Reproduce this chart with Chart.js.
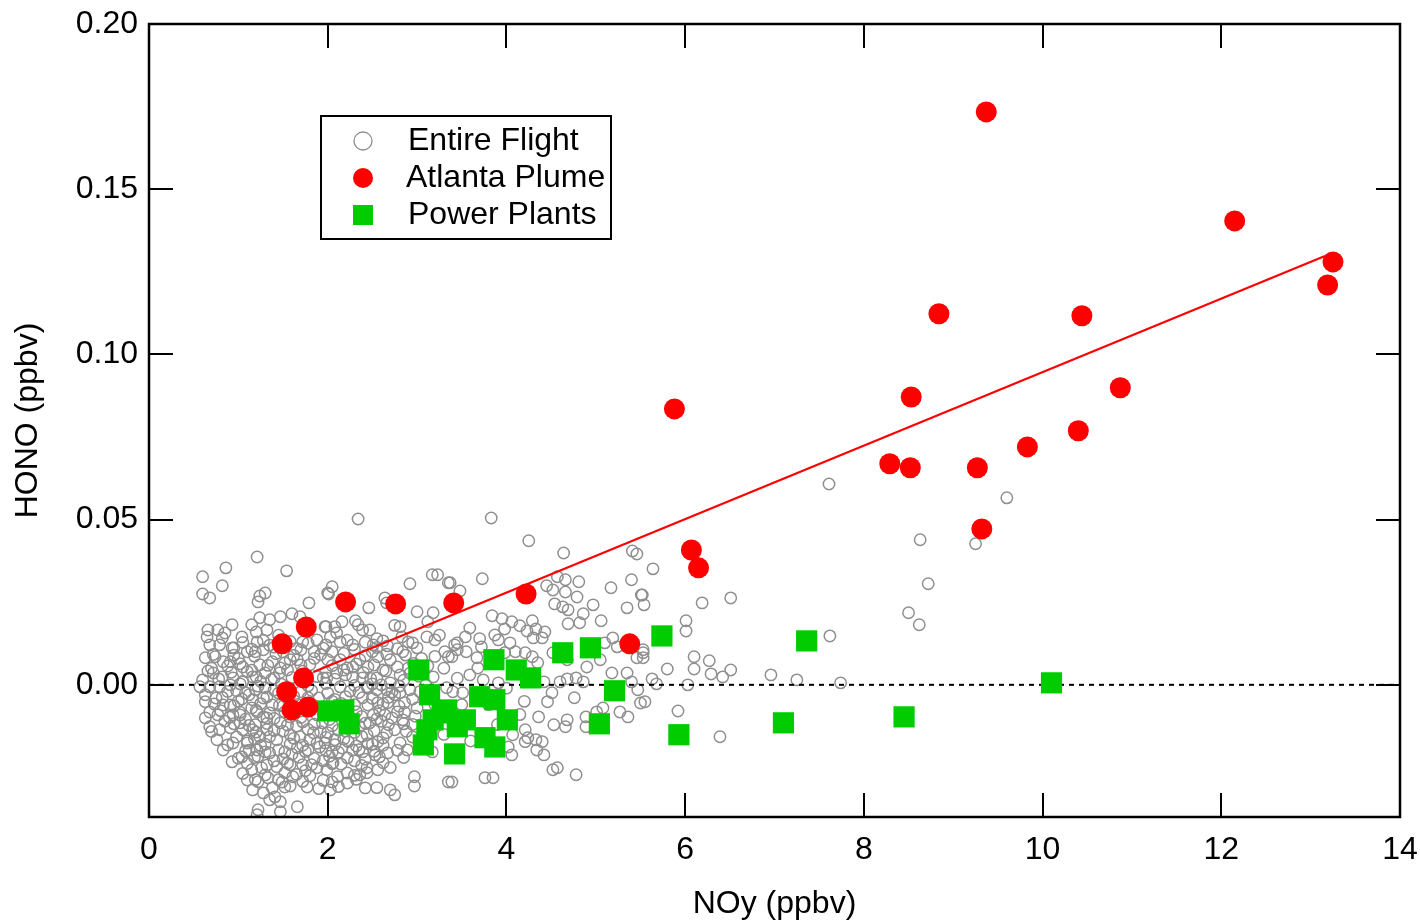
<!DOCTYPE html>
<html>
<head>
<meta charset="utf-8">
<script src="https://cdn.jsdelivr.net/npm/chart.js@4.4.1/dist/chart.umd.min.js"></script>
<style>
  html, body { margin: 0; padding: 0; background: #fff; }
  #wrap { width: 1420px; height: 923px; }
</style>
</head>
<body>
<div id="wrap"><canvas id="chart" width="1420" height="923"></canvas></div>
<script>
// Axis ticks
const xTicks = [0, 2, 4, 6, 8, 10, 12, 14];
const yTicks = [0, 0.05, 0.10, 0.15, 0.20];

// Atlanta plume (NOy, HONO)
const atlantaNOy  = [9.37, 12.15, 13.25, 13.19, 8.84, 10.44, 10.87, 5.88, 8.53, 8.29, 8.52, 9.27, 9.83, 10.40, 9.32,
                     6.07, 6.15, 4.22, 3.41, 2.76, 2.20, 5.38, 1.49, 1.76, 1.73, 1.54, 1.60, 1.78];
const atlantaHONO = [0.1734, 0.1404, 0.1280, 0.1210, 0.1123, 0.1117, 0.0899, 0.0835, 0.0871, 0.0669, 0.0657, 0.0657, 0.0720, 0.0769, 0.0472,
                     0.0408, 0.0354, 0.0275, 0.0248, 0.0245, 0.0251, 0.0124, 0.0124, 0.0175, 0.0021, -0.0021, -0.0076, -0.0067];

// Power plants (NOy, HONO)
const plantNOy  = [10.10, 8.45, 7.36, 7.10, 5.74, 5.93, 5.21, 5.04, 4.94, 4.63, 4.27, 4.11, 3.86, 3.02, 3.14, 3.28, 3.18,
                   3.07, 3.42, 3.54, 3.45, 3.33, 3.70, 3.87, 3.87, 3.76, 4.01, 3.11, 2.00, 2.18, 2.24];
const plantHONO = [0.0006, -0.0097, 0.0133, -0.0115, 0.0148, -0.0151, -0.0018, -0.0118, 0.0112, 0.0097, 0.0021, 0.0045, 0.0076, 0.0045, -0.0030, -0.0085, -0.0106,
                   -0.0182, -0.0209, -0.0106, -0.0127, -0.0076, -0.0036, -0.0045, -0.0188, -0.0160, -0.0106, -0.0136, -0.0079, -0.0076, -0.0118];

// Linear fit to the Atlanta plume, end points
const fitNOy  = [1.84, 13.16];
const fitHONO = [0.0039, 0.1298];

// Entire flight [NOy, HONO]
const flightPoints = [
  [7.61,0.0608],[5.64,0.0351],[6.19,0.0248],[6.51,0.0263],[6.01,0.0194],[6.01,0.0163],[7.62,0.0148],[6.10,0.0085],
  [6.27,0.0073],[6.10,0.0048],[6.29,0.0033],[6.42,0.0024],[6.51,0.0045],[6.96,0.0030],[7.25,0.0015],[7.74,0.0006],
  [5.80,0.0048],[6.03,0.0000],[5.63,0.0018],[5.68,0.0003],[5.55,-0.0051],[5.92,-0.0079],[6.39,-0.0157],[5.54,0.0242],
  [5.52,0.0272],[5.53,0.0106],[5.53,0.0082],
  [9.60,0.0566],[8.63,0.0439],[9.25,0.0427],[8.72,0.0306],[8.50,0.0218],[8.62,0.0182],
  [2.34,0.0502],[3.83,0.0505],[1.21,-0.0393],
  [4.25,0.0436],[4.64,0.0399],[5.41,0.0405],[5.46,0.0396],[3.73,0.0321],[3.48,0.0284],[3.37,0.0309],[4.45,0.0300],
  [4.57,0.0327],[4.66,0.0318],[4.66,0.0281],[4.52,0.0287],[4.79,0.0266],[4.81,0.0312],[5.17,0.0294],[5.40,0.0318],
  [5.51,0.0272],[5.35,0.0233],[4.54,0.0245],[4.63,0.0236],[4.69,0.0227],[4.97,0.0242],[4.86,0.0215],[4.82,0.0188],
  [4.69,0.0185],[5.06,0.0194],[3.84,0.0209],[3.95,0.0200],[4.06,0.0191],[3.98,0.0169],[4.15,0.0179],[4.29,0.0194],
  [4.33,0.0169],[4.23,0.0163],[4.43,0.0160],[3.59,0.0172],[3.54,0.0145],[3.42,0.0121],[3.87,0.0151],[3.91,0.0136],
  [4.04,0.0127],[4.30,0.0142],[4.40,0.0142],[3.72,0.0115],[3.67,0.0082],[3.98,0.0097],[4.21,0.0097],[4.29,0.0085],
  [4.35,0.0067],[4.52,0.0097],[4.68,0.0076],[4.90,0.0054],[5.05,0.0076],[5.19,0.0142],[5.10,0.0127],[5.24,0.0115],
  [5.46,0.0082],[5.53,0.0097],[5.18,0.0036],[5.35,0.0036],[5.40,0.0009],[5.47,-0.0015],[5.50,-0.0055],[5.27,-0.0082],
  [5.36,-0.0097],[5.08,-0.0070],[5.01,-0.0082],[4.89,-0.0097],[4.89,-0.0127],[4.68,-0.0106],[4.66,-0.0127],[4.53,-0.0121],
  [4.36,-0.0097],[4.46,-0.0051],[4.51,-0.0024],[4.76,-0.0039],[4.86,0.0009],[4.78,0.0021],[4.68,0.0018],[4.60,0.0009],
  [4.42,0.0009],[4.21,-0.0136],[4.24,-0.0160],[4.33,-0.0166],[4.40,-0.0172],[4.34,-0.0197],[4.42,-0.0212],[4.06,-0.0212],
  [4.02,-0.0188],[4.52,-0.0257],[4.57,-0.0251],[4.78,-0.0272],[3.76,-0.0281],[3.85,-0.0281],[3.39,-0.0294],[3.59,0.0030],
  [3.68,0.0051],[3.74,0.0015],[3.91,0.0006],[3.51,-0.0024],[3.40,-0.0021],[3.45,0.0106],[3.39,0.0085],[4.21,-0.0172],
  [4.07,-0.0151],
  [3.23,0.0333],[3.17,0.0333],[3.35,0.0309],[2.92,0.0306],[2.05,0.0297],[2.01,0.0275],[2.64,0.0263],[2.46,0.0233],
  [2.66,0.0248],[3.00,0.0221],[3.18,0.0218],[3.12,0.0191],[2.81,0.0176],[2.31,0.0194],[2.34,0.0182],[2.39,0.0166],
  [2.47,0.0166],[2.16,0.0191],[2.08,0.0176],[1.98,0.0176],[2.10,0.0157],[2.03,0.0145],[2.14,0.0130],[1.98,0.0121],
  [3.11,0.0145],[3.20,0.0136],[2.83,0.0145],[2.67,0.0118],[2.51,0.0121],[2.28,0.0121],[3.00,0.0112],[2.84,0.0100],
  [3.31,0.0100],[3.35,0.0085],[3.45,0.0127],[2.56,0.0085],[2.36,0.0076],[2.70,0.0076],[2.14,0.0076],[2.00,0.0076],
  [2.22,0.0051],[2.28,0.0054],[2.45,0.0054],[2.62,0.0045],[2.78,0.0054],[2.81,0.0030],[2.10,0.0036],[1.99,0.0021],
  [2.39,0.0021],[2.55,0.0021],[2.70,0.0006],[3.18,0.0024],
  [2.14,-0.0006],[2.44,-0.0006],[2.66,-0.0015],[2.81,-0.0024],[2.92,-0.0015],[2.39,-0.0039],[2.56,-0.0054],[2.67,-0.0054],
  [2.86,-0.0054],[2.51,-0.0091],[2.64,-0.0091],[2.78,-0.0082],[2.84,-0.0106],[2.47,-0.0115],[2.75,-0.0136],[2.66,-0.0145],
  [2.44,-0.0151],[2.56,-0.0172],[2.81,-0.0176],[2.89,-0.0197],[2.67,-0.0206],[2.53,-0.0212],[2.39,-0.0203],[2.28,-0.0197],
  [2.16,-0.0191],[2.05,-0.0203],[1.97,-0.0176],[2.08,-0.0166],[2.23,-0.0172],[2.00,-0.0145],[1.94,-0.0115],[2.06,-0.0236],
  [1.99,-0.0257],[2.11,-0.0278],[2.22,-0.0297],[2.03,-0.0318],[2.36,-0.0272],[2.44,-0.0266],[2.44,-0.0251],[2.56,-0.0257],
  [2.42,-0.0312],[2.70,-0.0318],[2.75,-0.0333],[2.97,-0.0278],[2.97,-0.0306],[3.35,-0.0294],[3.17,-0.0203],[3.18,-0.0021],
  [3.03,-0.0021],[3.33,-0.0009],
  [1.21,0.0387],[0.86,0.0354],[0.60,0.0327],[1.54,0.0345],[0.82,0.0300],[0.60,0.0275],[0.68,0.0263],[1.30,0.0278],
  [1.24,0.0269],[1.22,0.0251],[1.79,0.0248],[2.00,0.0278],[0.93,0.0182],[0.66,0.0166],[0.77,0.0166],[0.85,0.0157],
  [0.65,0.0145],[0.82,0.0142],[0.68,0.0121],[0.79,0.0121],[0.93,0.0112],[1.04,0.0145],[1.15,0.0182],[1.24,0.0203],
  [1.35,0.0197],[1.32,0.0166],[1.21,0.0130],[1.28,0.0106],[1.19,0.0100],[1.47,0.0206],[1.60,0.0215],[1.69,0.0206],
  [1.88,0.0136],[1.97,0.0176],[1.72,0.0130],[0.63,0.0082],[0.74,0.0085],[0.83,0.0070],[0.91,0.0070],[1.05,0.0054],
  [1.24,0.0061],[1.38,0.0070],[1.47,0.0051],[1.58,0.0076],[1.66,0.0076],[0.60,0.0015],[0.72,0.0036],[0.82,0.0024],
  [0.94,0.0021],[1.05,0.0009],[1.16,0.0024],[1.30,0.0036],[1.95,0.0021],
  [0.57,-0.0006],[0.68,-0.0006],[0.79,-0.0006],[0.91,0.0000],[1.19,-0.0015],[1.30,-0.0009],[0.63,-0.0030],[0.63,-0.0051],
  [0.83,-0.0061],[0.91,-0.0061],[0.68,-0.0082],[0.63,-0.0100],[0.77,-0.0091],[0.94,-0.0091],[1.02,-0.0091],[1.21,-0.0082],
  [1.38,-0.0061],[0.68,-0.0127],[0.79,-0.0136],[0.91,-0.0130],[1.02,-0.0115],[0.76,-0.0166],[0.94,-0.0176],[0.83,-0.0197],
  [0.93,-0.0233],[1.04,-0.0218],[1.19,-0.0121],[1.32,-0.0136],[1.47,-0.0115],[1.58,-0.0097],[1.72,-0.0112],[1.88,-0.0091],
  [1.24,-0.0157],[1.43,-0.0166],[1.58,-0.0151],[1.69,-0.0157],[1.84,-0.0145],[1.21,-0.0197],[1.35,-0.0206],[1.52,-0.0203],
  [1.66,-0.0191],[1.78,-0.0197],[1.91,-0.0188],[1.15,-0.0257],[1.26,-0.0251],[1.43,-0.0248],[1.58,-0.0242],[1.72,-0.0242],
  [1.88,-0.0251],[1.19,-0.0287],[1.33,-0.0281],[1.49,-0.0294],[1.61,-0.0278],[1.77,-0.0309],[1.16,-0.0318],[1.28,-0.0327],
  [1.41,-0.0339],[1.52,-0.0309],[1.66,-0.0369],[1.47,-0.0354],[1.35,-0.0348],[1.22,-0.0378],[1.47,-0.0384],[1.16,-0.0136],
  [1.32,-0.0100],[1.16,-0.0045],
  [1.10,0.0040],[1.25,0.0010],[1.40,0.0020],[1.55,0.0045],[1.70,0.0060],[1.85,0.0080],[1.12,-0.0030],[1.28,-0.0040],
  [1.45,-0.0025],[1.62,-0.0035],[1.90,-0.0040],[2.05,-0.0050],[1.15,-0.0070],[1.35,-0.0085],[1.50,-0.0065],[1.95,-0.0070],
  [2.10,-0.0090],[2.25,-0.0100],[1.10,-0.0170],[1.30,-0.0180],[1.50,-0.0140],[1.65,-0.0125],[1.80,-0.0165],[2.20,-0.0140],
  [2.35,-0.0125],[1.10,0.0100],[1.35,0.0120],[1.50,0.0100],[1.20,0.0160],[1.45,0.0150],[1.65,0.0110],[1.85,0.0100],
  [2.05,0.0100],[2.20,0.0030],[2.50,0.0100],[2.60,0.0000],[2.75,-0.0030],[2.90,0.0050],[3.00,-0.0070],[2.95,-0.0120],
  [2.60,-0.0110],[2.30,-0.0060],[2.45,-0.0010],[2.55,0.0140],[2.75,0.0180],[2.90,0.0130],[3.05,0.0080],[3.25,0.0150],
  [3.30,0.0050],[3.10,0.0000],[3.45,0.0020],[3.55,0.0100],[3.70,0.0140],[3.50,-0.0060],[3.30,-0.0150],[3.60,-0.0170],
  [3.80,-0.0060],[4.00,-0.0010],[4.10,0.0100],[4.20,-0.0050],[3.90,-0.0120],[4.15,-0.0090],[0.70,0.0050],[0.75,-0.0040],
  [0.88,-0.0020],[0.95,0.0090],[1.00,-0.0050],[0.85,-0.0110],[1.05,0.0010],[1.00,0.0080],[1.08,-0.0200],[1.18,-0.0220],
  [1.40,-0.0230],[1.60,-0.0210],[1.75,-0.0260],[1.95,-0.0230],[2.15,-0.0240],[2.30,-0.0230],[2.50,-0.0180],[2.70,-0.0250],
  [2.85,-0.0220],
  [1.05,0.0128],[1.28,0.0134],[1.58,0.0131],[1.78,0.0126],[2.22,0.0135],[2.42,0.0129],[2.62,0.0133],[2.95,0.0127],
  [0.72,0.0092],[1.18,0.0087],[1.42,0.0094],[1.62,0.0089],[1.92,0.0091],[2.18,0.0095],[2.42,0.0088],[2.66,0.0093],[2.87,0.0090],[3.20,0.0086],
  [0.88,0.0057],[1.02,0.0064],[1.33,0.0059],[1.52,0.0066],[1.80,0.0061],[2.05,0.0058],[2.32,0.0063],[2.52,0.0060],[2.96,0.0065],[3.12,0.0057],
  [0.78,0.0018],[1.20,0.0024],[1.37,0.0016],[1.60,0.0022],[1.88,0.0025],[2.08,0.0017],[2.28,0.0023],[2.48,0.0019],[2.85,0.0014],[3.02,0.0026],
  [0.98,-0.0018],[1.08,-0.0024],[1.40,-0.0016],[1.70,-0.0021],[1.82,-0.0017],[2.00,-0.0025],[2.25,-0.0019],[2.35,-0.0023],[2.55,-0.0015],[2.72,-0.0022],[3.12,-0.0019],
  [0.73,-0.0058],[0.95,-0.0063],[1.25,-0.0057],[1.46,-0.0062],[1.66,-0.0059],[1.85,-0.0064],[2.15,-0.0056],[2.45,-0.0061],[2.62,-0.0058],[2.80,-0.0065],[3.20,-0.0060],
  [0.90,-0.0098],[1.08,-0.0104],[1.28,-0.0097],[1.40,-0.0102],[1.70,-0.0099],[2.02,-0.0105],[2.38,-0.0096],[2.55,-0.0103],[2.72,-0.0100],[2.98,-0.0095],
  [0.70,-0.0141],[1.05,-0.0136],[1.20,-0.0143],[1.40,-0.0138],[1.78,-0.0135],[1.92,-0.0142],[2.12,-0.0137],[2.30,-0.0144],[2.52,-0.0139],[2.88,-0.0141],
  [0.88,-0.0182],[1.10,-0.0176],[1.25,-0.0184],[1.58,-0.0179],[1.72,-0.0183],[1.88,-0.0177],[2.08,-0.0181],[2.32,-0.0185],[2.45,-0.0178],[2.62,-0.0183],
  [1.00,-0.0222],[1.22,-0.0217],[1.50,-0.0224],[1.68,-0.0219],[1.85,-0.0223],[2.02,-0.0216],[2.22,-0.0221],[2.42,-0.0225],[2.58,-0.0218],
  [1.05,-0.0268],[1.30,-0.0273],[1.52,-0.0266],[1.65,-0.0271],[1.80,-0.0275],[2.22,-0.0267],[2.30,-0.0274],
  [1.38,-0.0312],[1.58,-0.0306],[1.90,-0.0314],[2.12,-0.0308],[2.55,-0.0311],
  [0.95,0.0112],[1.15,0.0108],[1.40,0.0114],[1.70,0.0106],[1.95,0.0111],[2.30,0.0107],[2.55,0.0113],[2.78,0.0109],
  [0.66,0.0042],[0.92,0.0038],[1.15,0.0044],[1.46,0.0036],[1.72,0.0041],[1.98,0.0039],[2.18,0.0045],[2.40,0.0037],[2.65,0.0042],[2.92,0.0035],
  [1.02,0.0003],[1.22,-0.0004],[1.48,0.0002],[1.78,-0.0003],[1.98,0.0004],[2.30,-0.0002],[2.50,0.0003],[2.80,-0.0004],
  [0.82,-0.0038],[1.04,-0.0043],[1.32,-0.0037],[1.55,-0.0042],[1.78,-0.0039],[2.08,-0.0044],[2.20,-0.0036],[2.50,-0.0041],[2.68,-0.0038],[2.95,-0.0043],
  [0.80,-0.0078],[1.02,-0.0083],[1.20,-0.0077],[1.52,-0.0082],[1.78,-0.0079],[1.95,-0.0084],[2.20,-0.0076],[2.32,-0.0081],[2.58,-0.0078],[2.86,-0.0083],
  [0.95,-0.0118],[1.12,-0.0123],[1.32,-0.0117],[1.55,-0.0122],[1.85,-0.0119],[2.05,-0.0124],[2.42,-0.0116],[2.68,-0.0121],[2.85,-0.0118],
  [0.98,-0.0158],[1.18,-0.0163],[1.35,-0.0157],[1.62,-0.0162],[1.98,-0.0159],[2.18,-0.0164],[2.38,-0.0156],[2.62,-0.0161],[2.95,-0.0158],
  [1.12,-0.0198],[1.30,-0.0203],[1.45,-0.0197],[1.75,-0.0202],[1.98,-0.0199],[2.12,-0.0204],[2.35,-0.0196],[2.52,-0.0201],[2.78,-0.0198],
  [1.10,-0.0238],[1.32,-0.0243],[1.55,-0.0237],[1.82,-0.0242],[2.05,-0.0239],[2.38,-0.0244],[2.62,-0.0236],
  [1.10,-0.0288],[1.22,-0.0293],[1.45,-0.0287],[1.72,-0.0292],[1.95,-0.0289],[2.05,-0.0294],[2.32,-0.0286]
];

const FONT = 'Arial, "Liberation Sans", Helvetica, sans-serif';
const GRAY = '#8f8f8f';
const RED = '#ff0000';
const GREEN = '#00cc00';

const toXY = (xs, ys) => xs.map((x, i) => ({ x, y: ys[i] }));

// frame + inward ticks on all four sides
const framePlugin = {
  id: 'frame',
  afterDraw(chart) {
    const { ctx, chartArea: a, scales: { x, y } } = chart;
    const len = 24;
    ctx.save();
    ctx.strokeStyle = '#000';
    ctx.lineWidth = 2;
    ctx.beginPath();
    xTicks.forEach(v => {
      const px = Math.round(x.getPixelForValue(v));
      ctx.moveTo(px, a.bottom); ctx.lineTo(px, a.bottom - len);
      ctx.moveTo(px, a.top); ctx.lineTo(px, a.top + len);
    });
    yTicks.forEach(v => {
      const py = Math.round(y.getPixelForValue(v));
      ctx.moveTo(a.left, py); ctx.lineTo(a.left + len, py);
      ctx.moveTo(a.right, py); ctx.lineTo(a.right - len, py);
    });
    ctx.stroke();
    ctx.lineWidth = 2.5;
    ctx.strokeRect(a.left, a.top, a.right - a.left, a.bottom - a.top);
    ctx.restore();
  }
};

// legend box inside the plot
const legendPlugin = {
  id: 'boxLegend',
  afterDraw(chart) {
    const { ctx, chartArea: a } = chart;
    const bx = a.left + 172, by = a.top + 92, bw = 290, bh = 123;
    ctx.save();
    ctx.fillStyle = '#fff';
    ctx.fillRect(bx, by, bw, bh);
    ctx.strokeStyle = '#000';
    ctx.lineWidth = 2;
    ctx.strokeRect(bx, by, bw, bh);
    const mx = bx + 42, tx = bx + 86;
    const rows = [by + 25, by + 62, by + 99];
    ctx.beginPath(); ctx.arc(mx, rows[0], 9, 0, Math.PI * 2);
    ctx.strokeStyle = GRAY; ctx.lineWidth = 1.3; ctx.stroke();
    ctx.beginPath(); ctx.arc(mx, rows[1], 10, 0, Math.PI * 2);
    ctx.fillStyle = RED; ctx.fill();
    ctx.fillStyle = GREEN; ctx.fillRect(mx - 10, rows[2] - 10, 20, 20);
    ctx.fillStyle = '#000';
    ctx.font = '32px ' + FONT;
    ctx.textBaseline = 'middle';
    ctx.fillText('Entire Flight', tx + 1, rows[0]);
    ctx.fillText('Atlanta Plume', tx - 1, rows[1]);
    ctx.fillText('Power Plants', tx + 1, rows[2]);
    ctx.restore();
  }
};

new Chart(document.getElementById('chart'), {
  type: 'scatter',
  data: {
    datasets: [
      {
        label: 'Atlanta Plume',
        data: toXY(atlantaNOy, atlantaHONO),
        pointStyle: 'circle', pointRadius: 10.5,
        backgroundColor: RED, borderColor: RED, borderWidth: 0,
        order: 0
      },
      {
        label: 'Power Plants',
        data: toXY(plantNOy, plantHONO),
        pointStyle: 'rect', pointRadius: 15,
        backgroundColor: GREEN, borderColor: GREEN, borderWidth: 0,
        order: 1
      },
      {
        label: 'fit',
        type: 'line',
        data: toXY(fitNOy, fitHONO),
        borderColor: RED, borderWidth: 2.2, pointRadius: 0, fill: false,
        order: 2
      },
      {
        label: 'zero',
        type: 'line',
        data: toXY([0, 14], [0, 0]),
        borderColor: '#000', borderWidth: 2, borderDash: [5, 5], pointRadius: 0, fill: false,
        order: 3
      },
      {
        label: 'Entire Flight',
        data: flightPoints.map(p => ({ x: p[0], y: p[1] })),
        pointStyle: 'circle', pointRadius: 5.7,
        backgroundColor: 'rgba(0,0,0,0)', borderColor: GRAY, borderWidth: 1.5,
        order: 4
      }
    ]
  },
  options: {
    responsive: false,
    animation: false,
    events: [],
    layout: { padding: { top: 24, right: 20, bottom: 0, left: 0 } },
    plugins: { legend: { display: false }, tooltip: { enabled: false } },
    scales: {
      x: {
        type: 'linear', min: 0, max: 14,
        afterBuildTicks: s => { s.ticks = xTicks.map(v => ({ value: v })); },
        afterFit: s => { s.height = 106; s.paddingLeft = 0; s.paddingRight = 0; },
        grid: { display: false, drawTicks: false },
        border: { display: false },
        ticks: { color: '#000', font: { family: FONT, size: 32 }, padding: 14, maxRotation: 0,
                 callback: v => String(v) },
        title: { display: true, text: 'NOy (ppbv)', color: '#000',
                 font: { family: FONT, size: 32 }, padding: { top: 0, bottom: 0 } }
      },
      y: {
        type: 'linear', min: -0.04, max: 0.20,
        afterBuildTicks: s => { s.ticks = yTicks.map(v => ({ value: v })); },
        afterFit: s => { s.width = 149; s.paddingTop = 0; s.paddingBottom = 0; },
        grid: { display: false, drawTicks: false },
        border: { display: false },
        ticks: { color: '#000', font: { family: FONT, size: 32 }, padding: 11,
                 callback: v => v.toFixed(2) },
        title: { display: true, text: 'HONO (ppbv)', color: '#000',
                 font: { family: FONT, size: 32 }, padding: { top: 9, bottom: 0 } }
      }
    }
  },
  plugins: [framePlugin, legendPlugin]
});
</script>
</body>
</html>
